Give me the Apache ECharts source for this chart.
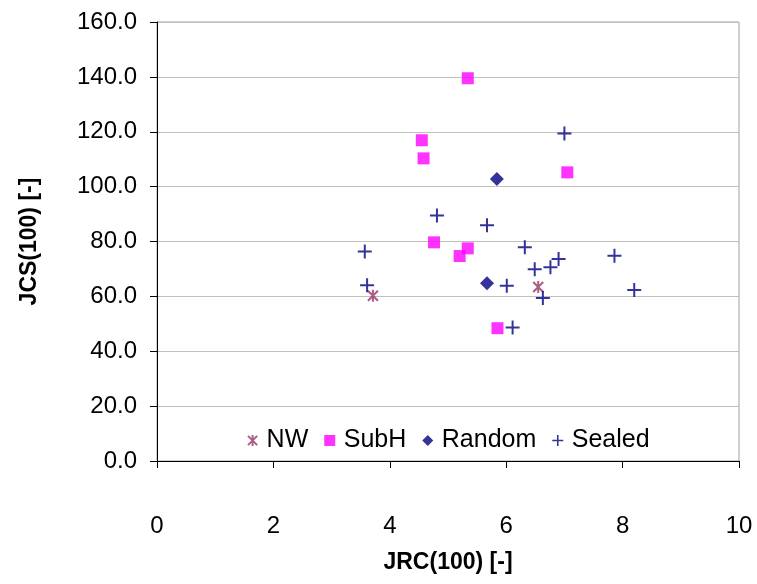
<!DOCTYPE html>
<html>
<head>
<meta charset="utf-8">
<script src="https://cdn.jsdelivr.net/npm/echarts@6/dist/echarts.min.js"></script>
<style>
  html, body { margin: 0; padding: 0; background: #fff; }
  #main { width: 757px; height: 584px; }
</style>
</head>
<body>
<div id="main"></div>
<script>
// JRC(100), JCS(100) pairs per group
var nwData = [[3.71, 60.2], [6.55, 63.4]];
var subhData = [[5.34, 139.5], [4.55, 116.9], [4.58, 110.3], [7.05, 105.2],
                [4.76, 79.7], [5.34, 77.5], [5.20, 74.7], [5.85, 48.4]];
var randomData = [[5.84, 102.8], [5.67, 64.8]];
var sealedData = [[7.00, 119.4], [4.81, 89.5], [5.67, 85.9], [3.57, 76.4],
                  [6.32, 77.9], [6.90, 73.6], [6.76, 70.6], [6.49, 69.9],
                  [3.61, 64.1], [6.01, 63.9], [6.63, 59.4], [6.11, 48.7],
                  [7.86, 74.8], [8.20, 62.3]];

var seriesNames = ['NW', 'SubH', 'Random', 'Sealed'];

var starPath = 'path://M0,0 L10,10 M10,0 L0,10 M5,-1 L5,11';
var squarePath = 'path://M0,0 L10,0 L10,10 L0,10 Z';
var diamondPath = 'path://M5,0 L10,5 L5,10 L0,5 Z';
var plusPath = 'path://M0,6 L14,6 L14,8 L0,8 Z M6,0 L8,0 L8,14 L6,14 Z';
var icons = [starPath, squarePath, diamondPath, plusPath];

var chart = echarts.init(document.getElementById('main'));

var option = {
	backgroundColor: '#ffffff',
	animation: false,
	textStyle: { fontFamily: 'Liberation Sans, Arial, sans-serif' },
	grid: {
		left: 157, right: 18, top: 22, bottom: 123,
		show: true, borderColor: '#a0a0a0', borderWidth: 1
	},
	legend: {
		data: seriesNames.map(function (n, i) { return { name: n, icon: icons[i] }; }),
		left: 242, top: 423,
		itemWidth: 18, itemHeight: 11, itemGap: 16,
		symbolKeepAspect: true,
		textStyle: { fontSize: 25, color: '#000', fontFamily: 'Liberation Sans, Arial, sans-serif' }
	},
	xAxis: {
		type: 'value', min: 0, max: 10, interval: 2,
		name: 'JRC(100) [-]', nameLocation: 'middle', nameGap: 90,
		nameTextStyle: { fontSize: 23, fontWeight: 'bold', color: '#000' },
		axisLine: { onZero: false, lineStyle: { color: '#000', width: 1 } },
		axisTick: { show: true, inside: false, length: 7, lineStyle: { color: '#000' } },
		axisLabel: { fontSize: 24, color: '#000', margin: 53 },
		splitLine: { show: false }
	},
	yAxis: {
		type: 'value', min: 0, max: 160, interval: 20,
		name: 'JCS(100) [-]', nameLocation: 'middle', nameGap: 116,
		nameTextStyle: { fontSize: 23, fontWeight: 'bold', color: '#000' },
		axisLine: { show: true, onZero: false, lineStyle: { color: '#000', width: 1 } },
		axisTick: { show: true, inside: false, length: 7, lineStyle: { color: '#000' } },
		axisLabel: { fontSize: 24, color: '#000', margin: 20,
			formatter: function (v) { return v.toFixed(1); } },
		splitLine: { show: true, lineStyle: { color: '#c0c0c0', width: 1 } }
	},
	series: [
		{
			name: 'NW', type: 'scatter', data: nwData,
			symbol: starPath, symbolSize: 12, symbolKeepAspect: true,
			itemStyle: { color: 'rgba(0,0,0,0)', borderColor: '#993366', borderWidth: 2 }
		},
		{
			name: 'SubH', type: 'scatter', data: subhData,
			symbol: squarePath, symbolSize: 12, symbolKeepAspect: true,
			itemStyle: { color: '#ff00ff' }
		},
		{
			name: 'Random', type: 'scatter', data: randomData,
			symbol: diamondPath, symbolSize: 14, symbolKeepAspect: true,
			itemStyle: { color: '#000080' }
		},
		{
			name: 'Sealed', type: 'scatter', data: sealedData,
			symbol: plusPath, symbolSize: 14, symbolKeepAspect: true,
			itemStyle: { color: '#000080' }
		}
	]
};

chart.setOption(option);
</script>
</body>
</html>
